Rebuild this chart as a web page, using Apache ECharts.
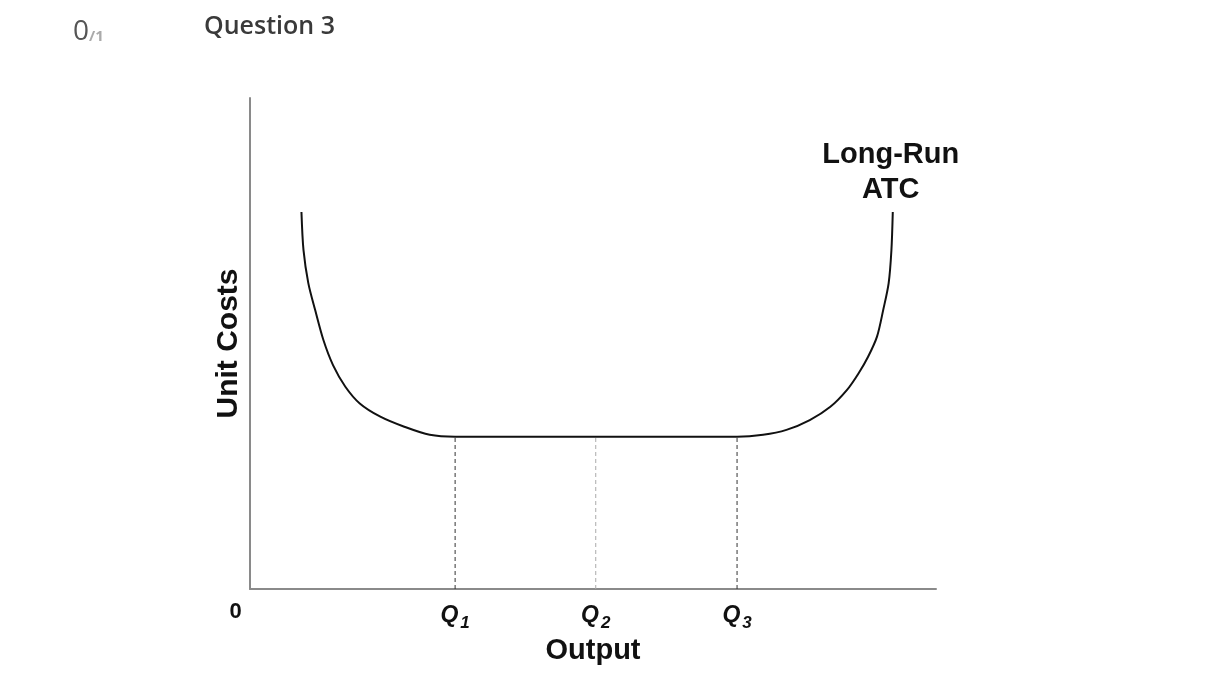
<!DOCTYPE html>
<html>
<head>
<meta charset="utf-8">
<script src="https://cdn.jsdelivr.net/npm/echarts@6/dist/echarts.min.js"></script>
<style>
html,body{margin:0;padding:0;background:#fff;}
#chart{width:1220px;height:685px;}
</style>
</head>
<body>
<div id="chart"></div>
<script>
// Long-run ATC curve (output, unit cost) in abstract units 0..100
const curveX = [7.5, 7.8, 8.5, 9.5, 10.7, 12.1, 13.9, 16.0, 19.0, 22.4, 26.2, 29.9, 40.0, 50.4, 60.0, 71.0, 74.8, 78.2, 81.6, 84.6, 87.0, 88.7, 90.1, 91.4, 92.3, 93.1, 93.5, 93.7];
const curveY = [76.8, 69.0, 62.3, 56.8, 50.7, 45.6, 41.2, 37.8, 35.1, 33.1, 31.4, 31.0, 31.0, 31.0, 31.0, 31.0, 31.4, 32.4, 34.4, 37.1, 40.5, 43.9, 47.3, 51.4, 56.8, 62.3, 69.0, 76.8];
// Output levels marked on the x axis
const qValues = [29.9, 50.4, 71.0];
const qNames = ['1', '2', '3'];
const qColors = ['#333', '#aaa', '#333'];
const minCost = 31.0;
const tickValues = [0].concat(qValues);

const chart = echarts.init(document.getElementById('chart'));
const curve = curveX.map((x, i) => [x, curveY[i]]);

const dropSeries = qValues.map((q, i) => ({
  type: 'line',
  data: [[q, 0], [q, minCost]],
  symbol: 'none',
  silent: true,
  lineStyle: { color: qColors[i], width: 1, type: [4, 3] },
  z: 1
}));

chart.setOption({
  animation: false,
  title: [
    {
      text: '{a|0}{b|/1}',
      left: 68, top: 13,
      textStyle: {
        rich: {
          a: { fontFamily: 'Open Sans', fontSize: 28, color: '#555', fontWeight: 'normal' },
          b: { fontFamily: 'Open Sans', fontSize: 15, color: '#aaa', padding: [10, 0, 0, 0] }
        }
      }
    },
    {
      text: 'Question 3',
      left: 199, top: 9,
      textStyle: { fontFamily: 'Open Sans', fontSize: 25, fontWeight: 600, color: '#3a3a3a' }
    }
  ],
  grid: { left: 250, right: 284, top: 98, bottom: 96 },
  xAxis: {
    type: 'value', min: 0, max: 100,
    splitLine: { show: false },
    axisLine: { lineStyle: { color: '#8a8a8a', width: 2 } },
    axisTick: { show: false },
    axisLabel: {
      customValues: tickValues,
      margin: 10,
      formatter: function (v) {
        if (v === 0) return '{z|0}';
        const i = qValues.indexOf(v);
        return '{q|Q}{s|' + qNames[i] + '}';
      },
      rich: {
        z: { fontFamily: 'Liberation Sans', fontSize: 22, fontWeight: 'bold', color: '#111', padding: [2, 29, 0, 0] },
        q: { fontFamily: 'Liberation Sans', fontSize: 23, fontWeight: 'bold', fontStyle: 'italic', color: '#111' },
        s: { fontFamily: 'Liberation Sans', fontSize: 17, fontWeight: 'bold', fontStyle: 'italic', color: '#111', padding: [16, 0, 0, 2] }
      }
    },
    name: 'Output',
    nameLocation: 'middle',
    nameGap: 42,
    nameTextStyle: { fontFamily: 'Liberation Sans', fontSize: 29, fontWeight: 'bold', color: '#111' }
  },
  yAxis: {
    type: 'value', min: 0, max: 100,
    splitLine: { show: false },
    axisLine: { lineStyle: { color: '#8a8a8a', width: 2 } },
    axisTick: { show: false },
    axisLabel: { show: false },
    name: 'Unit Costs',
    nameLocation: 'middle',
    nameRotate: 90,
    nameGap: 6,
    nameTextStyle: { fontFamily: 'Liberation Sans', fontSize: 30, fontWeight: 'bold', color: '#111' }
  },
  series: [
    {
      type: 'line',
      data: curve,
      smooth: 0.3,
      symbol: 'none',
      lineStyle: { color: '#111', width: 2 },
      z: 3,
      endLabel: {
        show: true,
        formatter: 'Long-Run\nATC',
        fontFamily: 'Liberation Sans', fontSize: 29, fontWeight: 'bold', color: '#111',
        lineHeight: 35,
        align: 'center',
        verticalAlign: 'bottom',
        offset: [-2, -4],
        distance: 0
      }
    }
  ].concat(dropSeries)
});
</script>
</body>
</html>
